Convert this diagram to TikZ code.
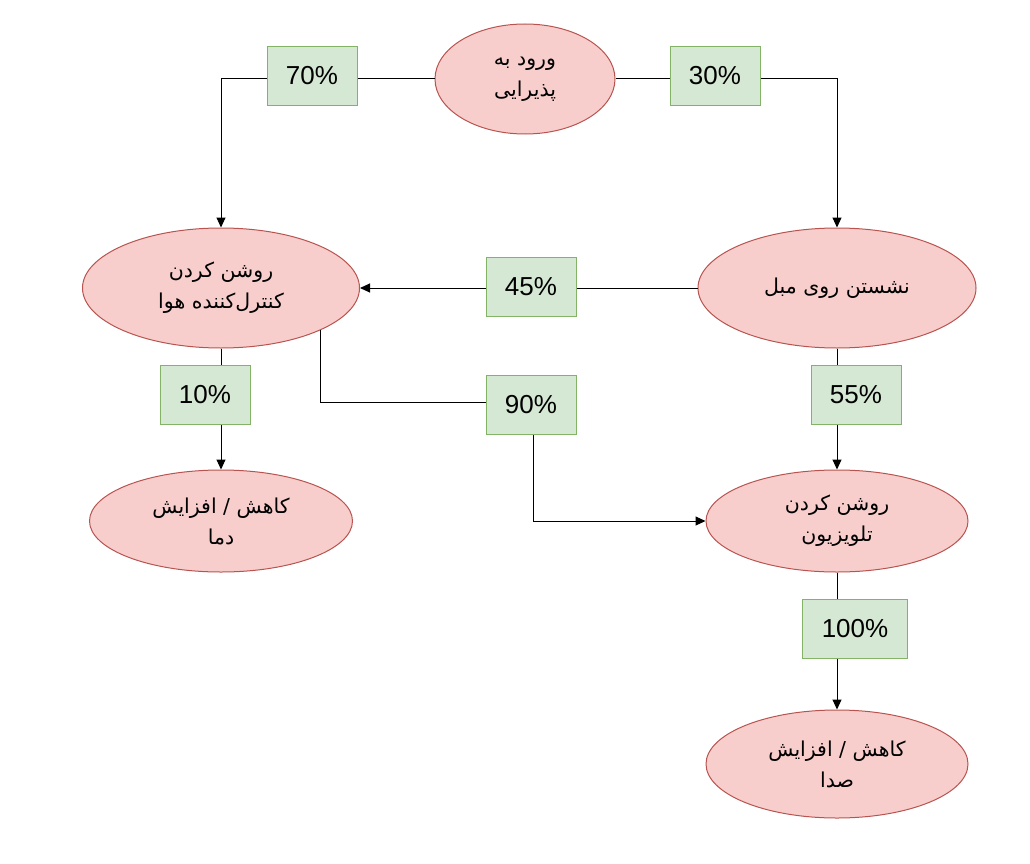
\documentclass[tikz,border=0pt]{standalone}
\usepackage{fontspec}
\setmainfont{Liberation Sans}
\newfontfamily\arabicfont[Script=Arabic]{DejaVu Sans}
\TeXXeTstate=1
\usetikzlibrary{shapes.geometric,arrows.meta}
\definecolor{redfill}{HTML}{F8CECC}
\definecolor{redline}{HTML}{B85450}
\definecolor{greenfill}{HTML}{D5E8D4}
\definecolor{greenline}{HTML}{82B366}
\newcommand{\fa}[1]{{\arabicfont\beginR #1\endR}}
\begin{document}
\begin{tikzpicture}[x=1pt,y=-1pt,
  oval/.style={ellipse,draw=redline,fill=redfill,line width=1pt,inner sep=0pt,align=center,
    font=\fontsize{20.5}{31}\selectfont},
  pct/.style={rectangle,draw=greenline,fill=greenfill,line width=1pt,minimum width=90pt,minimum height=59pt,
    inner sep=0pt,font=\fontsize{26}{30}\selectfont},
  conn/.style={line width=1pt,draw=black},
  arr/.style={conn,-{Triangle[length=10pt,width=9pt]}}]
\useasboundingbox (0,0) rectangle (1030,864);
% ellipses
\node[oval,minimum width=180pt,minimum height=110pt] (top) at (525,79) {\fa{ورود به}\\\fa{پذیرایی}};
\node[oval,minimum width=277pt,minimum height=120pt] (lac) at (221,288) {\fa{روشن کردن}\\\fa{کنترل‌کننده هوا}};
\node[oval,minimum width=278pt,minimum height=120pt] (sofa) at (837,288) {\fa{نشستن روی مبل}};
\node[oval,minimum width=263pt,minimum height=102pt] (temp) at (221,521) {\fa{کاهش / افزایش}\\\fa{دما}};
\node[oval,minimum width=262pt,minimum height=102pt] (tv) at (837,521) {\fa{روشن کردن}\\\fa{تلویزیون}};
\node[oval,minimum width=262pt,minimum height=108pt] (vol) at (837,764) {\fa{کاهش / افزایش}\\\fa{صدا}};
% connector helpers
\coordinate (c90) at (533,402);
% connectors
\draw[arr] (top.west) -| (lac.north);
\draw[arr] (top.east) -| (sofa.north);
\draw[arr] (sofa.west) -- (lac.east);
\draw[arr] (lac.south) -- (temp.north);
\draw[arr] (lac.-23.5) |- (c90) |- (tv.west);
\draw[arr] (sofa.south) -- (tv.north);
\draw[arr] (tv.south) -- (vol.north);
% labels
\node[pct] (p70) at (312,76) {70\%};
\node[pct] (p30) at (715,76) {30\%};
\node[pct] (p45) at (531,287) {45\%};
\node[pct] (p10) at (205,395) {10\%};
\node[pct] (p90) at (531,405) {90\%};
\node[pct] (p55) at (856,395) {55\%};
\node[pct,minimum width=105pt] (p100) at (855,629) {100\%};
\end{tikzpicture}
\end{document}
